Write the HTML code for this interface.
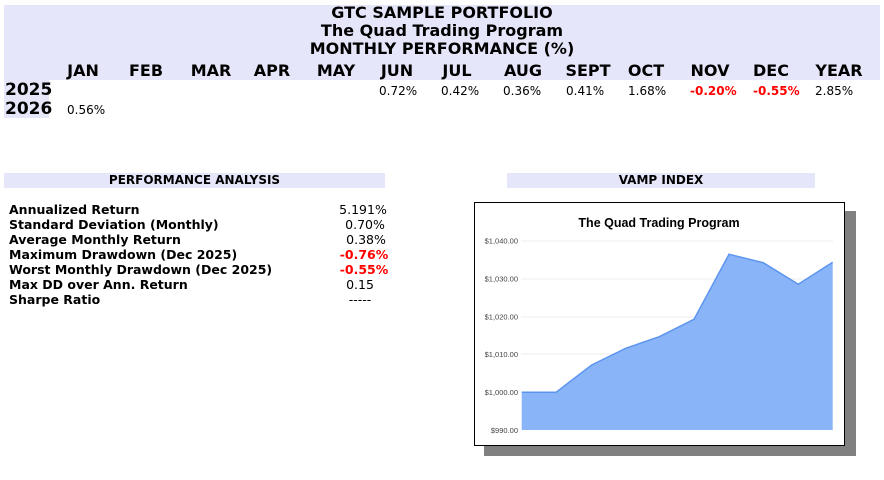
<!DOCTYPE html>
<html><head><meta charset="utf-8"><style>
body{margin:0;width:884px;height:480px;background:#fff;position:relative;overflow:hidden;font-family:"DejaVu Sans","Liberation Sans",sans-serif;color:#000}
div{position:absolute;white-space:nowrap}
.t{font-weight:bold;font-size:16px;left:0;width:884px;text-align:center;line-height:18px}
.m{font-weight:bold;font-size:16px;top:62px;line-height:18px;transform:translateX(-50%)}
.d{font-size:12px;line-height:14px}
.r{color:#f00;font-weight:bold}
.y{font-weight:bold;font-size:17px;left:5px;line-height:19px}
.l{font-weight:bold;font-size:12.5px;left:9px;line-height:15px}
.v{font-size:12.5px;left:303px;width:120px;text-align:center;line-height:15px}
</style></head><body>
<div style="left:4px;top:5px;width:876px;height:75px;background:#e6e6fa"></div>
<div style="left:4px;top:80px;width:45px;height:38px;background:#e6e6fa"></div>
<div class="t" style="top:4px">GTC SAMPLE PORTFOLIO</div>
<div class="t" style="top:22px">The Quad Trading Program</div>
<div class="t" style="top:40px">MONTHLY PERFORMANCE (%)</div>
<div class="m" style="left:83px">JAN</div><div class="m" style="left:146px">FEB</div>
<div class="m" style="left:211px">MAR</div><div class="m" style="left:272px">APR</div>
<div class="m" style="left:336px">MAY</div><div class="m" style="left:397px">JUN</div>
<div class="m" style="left:457px">JUL</div><div class="m" style="left:523px">AUG</div>
<div class="m" style="left:588px">SEPT</div><div class="m" style="left:646px">OCT</div>
<div class="m" style="left:710px">NOV</div><div class="m" style="left:771px">DEC</div>
<div class="m" style="left:839px">YEAR</div>
<div class="y" style="top:81px">2025</div><div class="y" style="top:100px">2026</div>
<div class="d" style="left:379px;top:84px">0.72%</div>
<div class="d" style="left:441px;top:84px">0.42%</div>
<div class="d" style="left:503px;top:84px">0.36%</div>
<div class="d" style="left:566px;top:84px">0.41%</div>
<div class="d" style="left:628px;top:84px">1.68%</div>
<div class="d r" style="left:690px;top:84px">-0.20%</div>
<div class="d r" style="left:753px;top:84px">-0.55%</div>
<div class="d" style="left:815px;top:84px">2.85%</div>
<div class="d" style="left:67px;top:103px">0.56%</div>

<div style="left:4px;top:173px;width:381px;height:15px;background:#e6e6fa;font-weight:bold;font-size:12px;text-align:center;line-height:15px">PERFORMANCE ANALYSIS</div>
<div style="left:507px;top:173px;width:308px;height:15px;background:#e6e6fa;font-weight:bold;font-size:12px;text-align:center;line-height:15px">VAMP INDEX</div>

<div class="l" style="top:202px">Annualized Return</div><div class="v" style="top:202px">5.191%</div>
<div class="l" style="top:217px">Standard Deviation (Monthly)</div><div class="v" style="top:217px;left:305px">0.70%</div>
<div class="l" style="top:232px">Average Monthly Return</div><div class="v" style="top:232px;left:306px">0.38%</div>
<div class="l" style="top:247px">Maximum Drawdown (Dec 2025)</div><div class="v r" style="top:247px;left:304px">-0.76%</div>
<div class="l" style="top:262px">Worst Monthly Drawdown (Dec 2025)</div><div class="v r" style="top:262px;left:304px">-0.55%</div>
<div class="l" style="top:277px">Max DD over Ann. Return</div><div class="v" style="top:277px;left:300px">0.15</div>
<div class="l" style="top:292px">Sharpe Ratio</div><div class="v" style="top:292px;left:300px">-----</div>

<div style="left:484px;top:211px;width:372px;height:245px;background:#808080"></div>
<div style="left:474px;top:202px;width:369px;height:242px;background:#fff;border:1px solid #000"></div>
<svg style="position:absolute;left:0;top:0" width="884" height="480">
<text x="659" y="227" font-family="Liberation Sans,sans-serif" font-weight="bold" font-size="12.5" text-anchor="middle">The Quad Trading Program</text>
<g stroke="#eee" stroke-width="1">
<line x1="521" x2="833" y1="241" y2="241"/><line x1="521" x2="833" y1="279" y2="279"/>
<line x1="521" x2="833" y1="317" y2="317"/><line x1="521" x2="833" y1="354" y2="354"/>
</g>
<g font-family="Liberation Sans,sans-serif" font-size="7.5" fill="#444" text-anchor="end">
<text x="518" y="243.5">$1,040.00</text><text x="518" y="281.5">$1,030.00</text>
<text x="518" y="319.5">$1,020.00</text><text x="518" y="357">$1,010.00</text>
<text x="518" y="395">$1,000.00</text><text x="518" y="433">$990.00</text>
</g>
<polygon fill="#8ab4f8" points="521.7,392.3 556,392.3 591.7,365 625.7,348.3 659.3,336.7 694,319.3 729,254.3 763.3,262.7 798.3,284.3 832.7,262.3 832.7,430 521.7,430"/>
<polyline fill="none" stroke="#5c95ee" stroke-width="1.5" points="521.7,392.3 556,392.3 591.7,365 625.7,348.3 659.3,336.7 694,319.3 729,254.3 763.3,262.7 798.3,284.3 832.7,262.3"/>
</svg>
</body></html>
